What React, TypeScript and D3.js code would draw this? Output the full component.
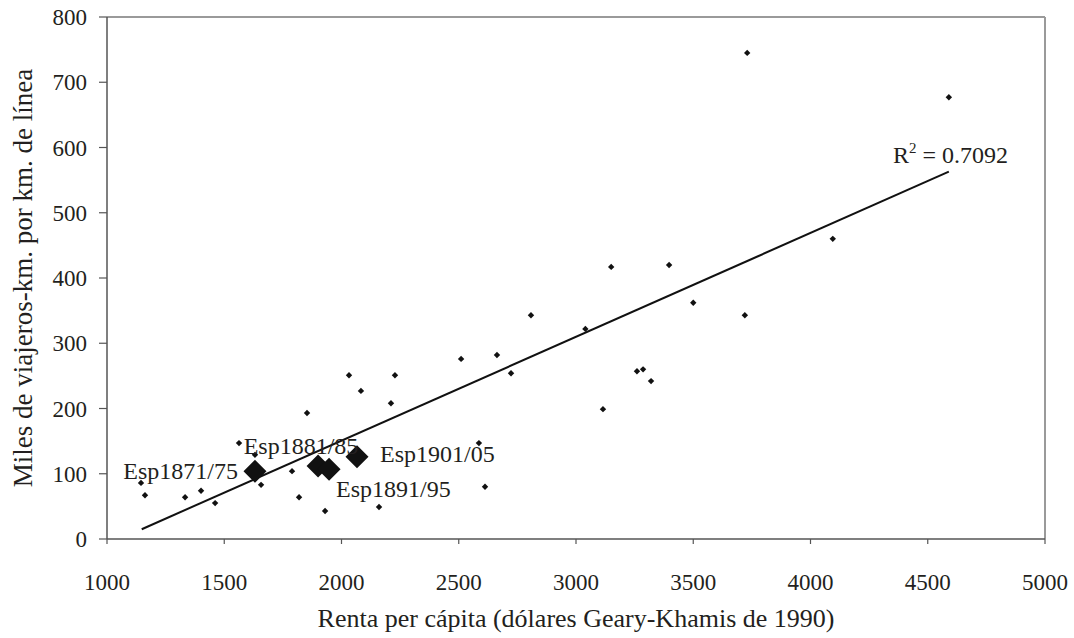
import React from "react";
import * as d3 from "d3";

const smallX = [3730, 4590, 4095, 3150, 3397, 3500, 3720, 3040, 3260, 3286, 3320, 3115, 2808, 2510, 2663, 2723, 2228, 2211, 2032, 2083, 1853, 1563, 1631, 1789, 1657, 1145, 1162, 1333, 1401, 1461, 1819, 1930, 2160, 2586, 2612];
const smallY = [745, 677, 460, 417, 420, 362, 343, 322, 257, 260, 242, 199, 343, 276, 282, 254, 251, 208, 251, 227, 193, 147, 129, 104, 83, 86, 67, 64, 74, 55, 64, 43, 49, 147, 80];

const spainLabels = ["Esp1871/75", "Esp1881/85", "Esp1891/95", "Esp1901/05"];
const spainX = [1631, 1900, 1947, 2066];
const spainY = [104, 112, 107, 126];

const trendX = [1148, 4590];
const trendY = [15, 563];
const r2Text = "0.7092";

const xTicks = [1000, 1500, 2000, 2500, 3000, 3500, 4000, 4500, 5000];
const yTicks = [0, 100, 200, 300, 400, 500, 600, 700, 800];

const xTitle = "Renta per cápita (dólares Geary-Khamis de 1990)";
const yTitle = "Miles de viajeros-km. por km. de línea";

// layout (label offsets relative to each marker)
const labelLayout = [
  { dx: -17, dy: 8, anchor: "end" },
  { dx: -17, dy: -12, anchor: "middle" },
  { dx: 7, dy: 28, anchor: "start" },
  { dx: 23, dy: 5, anchor: "start" },
];

const W = 1074;
const H = 638;
const M = { left: 107, right: 1045, top: 17, bottom: 539 };
const FONT = "'Liberation Serif', 'Times New Roman', serif";
const TEXT = "#231f20";

export default function App() {
  const x = d3.scaleLinear().domain([1000, 5000]).range([M.left, M.right]);
  const y = d3.scaleLinear().domain([0, 800]).range([M.bottom, M.top]);
  const diamond = (cx: number, cy: number, r: number) =>
    `M${cx},${cy - r}L${cx + r},${cy}L${cx},${cy + r}L${cx - r},${cy}Z`;
  const line = d3
    .line<number>()
    .x((d) => x(d))
    .y((_, i) => y(trendY[i]));

  return (
    <svg
      width={W}
      height={H}
      style={{ position: "absolute", left: 0, top: 0, background: "#fff" }}
      fontFamily={FONT}
    >
      <rect x={0} y={0} width={W} height={H} fill="#fff" />
      {/* frame: top and right grey */}
      <line x1={M.left} x2={M.right} y1={M.top} y2={M.top} stroke="#9a9a9a" strokeWidth={2} />
      <line x1={M.right} x2={M.right} y1={M.top} y2={M.bottom} stroke="#9a9a9a" strokeWidth={2} />
      {/* axes */}
      <line x1={M.left} x2={M.left} y1={M.top} y2={M.bottom} stroke="#555" strokeWidth={1.5} />
      <line x1={M.left} x2={M.right} y1={M.bottom} y2={M.bottom} stroke="#555" strokeWidth={1.5} />
      {yTicks.map((t) => (
        <g key={"y" + t}>
          <line x1={M.left - 8} x2={M.left} y1={y(t)} y2={y(t)} stroke="#555" strokeWidth={1.2} />
          <text x={87} y={y(t)} dy="0.35em" textAnchor="end" fontSize={23} fill={TEXT}>
            {t}
          </text>
        </g>
      ))}
      {xTicks.map((t) => (
        <g key={"x" + t}>
          <line x1={x(t)} x2={x(t)} y1={M.bottom} y2={M.bottom + 5} stroke="#555" strokeWidth={1.2} />
          <text x={x(t)} y={590} textAnchor="middle" fontSize={23} fill={TEXT}>
            {t}
          </text>
        </g>
      ))}
      <text x={(M.left + M.right) / 2} y={627} textAnchor="middle" fontSize={26} fill={TEXT}>
        {xTitle}
      </text>
      <text
        transform={`translate(32,${(M.top + M.bottom) / 2}) rotate(-90)`}
        textAnchor="middle"
        fontSize={27}
        fill={TEXT}
      >
        {yTitle}
      </text>

      {/* trend line */}
      <path d={line(trendX) || ""} fill="none" stroke="#111" strokeWidth={2} />
      <text x={1008} y={163} textAnchor="end" fontSize={24} fill={TEXT}>
        R<tspan dy={-10} fontSize={15}>2</tspan>
        <tspan dy={10}>{" = " + r2Text}</tspan>
      </text>

      {/* small points */}
      {smallX.map((v, i) => (
        <path key={"s" + i} d={diamond(x(v), y(smallY[i]), 3.2)} fill="#111" />
      ))}

      {/* Spain points */}
      {spainX.map((v, i) => (
        <path key={"b" + i} d={diamond(x(v), y(spainY[i]), 11.5)} fill="#111" />
      ))}
      {spainX.map((v, i) => (
        <text
          key={"l" + i}
          x={x(v) + labelLayout[i].dx}
          y={y(spainY[i]) + labelLayout[i].dy}
          textAnchor={labelLayout[i].anchor as any}
          fontSize={24}
          fill={TEXT}
        >
          {spainLabels[i]}
        </text>
      ))}
    </svg>
  );
}
